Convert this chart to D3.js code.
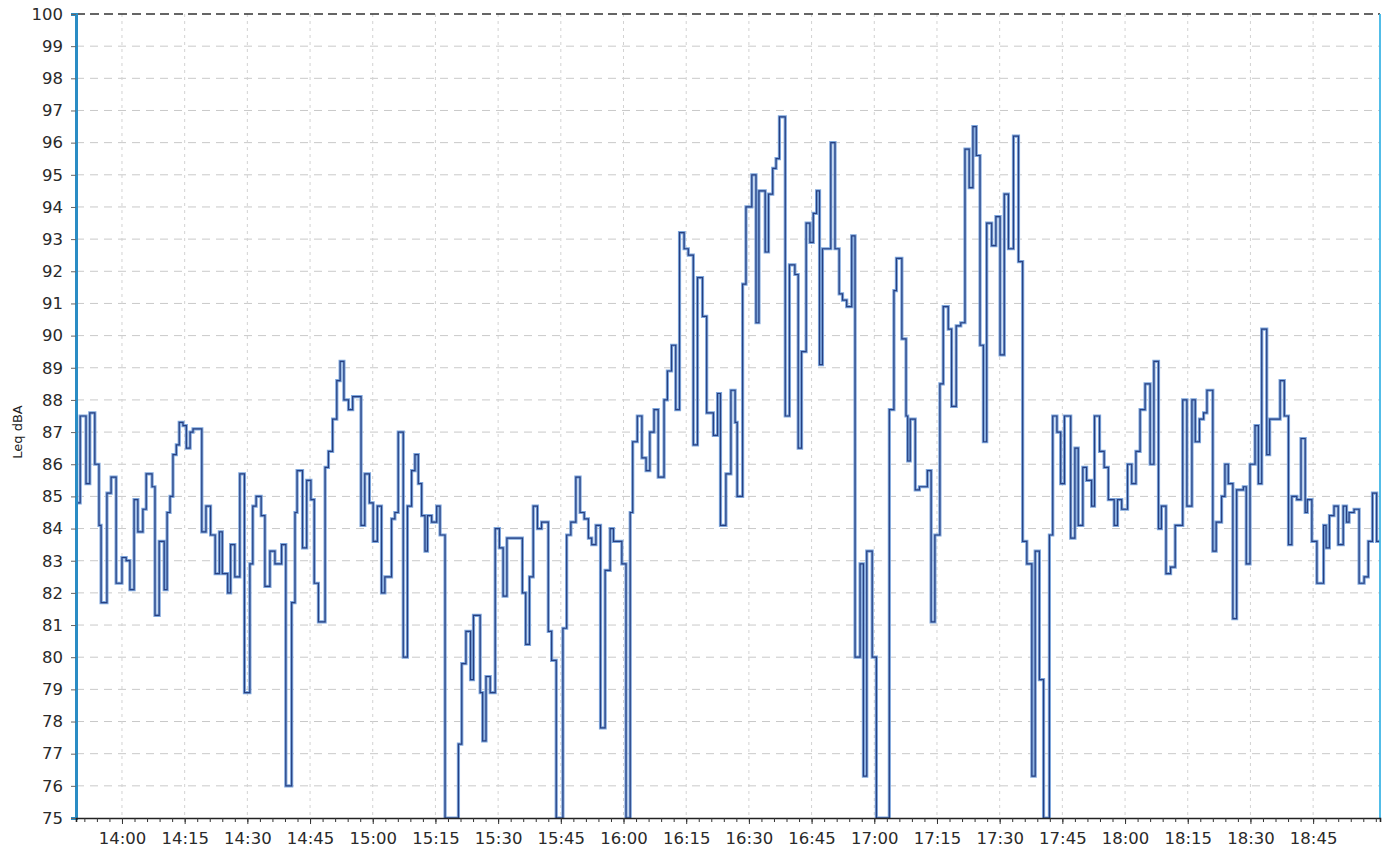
<!DOCTYPE html>
<html><head><meta charset="utf-8">
<script src="https://cdn.jsdelivr.net/npm/d3@7"></script>
<style>
body{margin:0;background:#fff;}
text{font-family:"DejaVu Sans",Verdana,sans-serif;}
</style>
</head><body>
<svg id="chart" width="1392" height="858"></svg>
<script>
// ---- data ----
const baseClock = "14:00";           // minutes below are offsets from this clock time
const rangeStartMin = -11;            // 13:49
const rangeEndMin = 301;              // 19:01
const stepStartMin = [
 -11,-10,-8.6,-7.7,-6.5,-5.5,-5,-3.6,-2.6,-1.4,0,1,1.9,2.9,3.8,5,5.8,7.2,7.9,8.9,10.1,10.8,11.5,12.2,13,13.7,14.6,15.4,16.3,17,
 19.1,20.1,21.2,22.3,23.3,24,25.3,26,27,28.2,29.3,30.6,31.3,32.1,33.3,34.2,35.4,36.6,38.2,39.2,40.6,41.4,41.9,43.2,44.2,45.2,46,47,48.6,49.4,50.4,51.4,52.2,53.1,54.2,55.2,57.2,58.1,
 59.2,60.1,61.1,62.1,62.9,64.5,65.3,66.1,67.3,68.3,69.3,70.1,70.9,71.7,72.5,73.1,74.1,75.3,76.1,77.3,80.5,81.3,82.3,83.4,84.1,85.7,86.3,87.1,88.1,89.3,90.3,91.2,92.1,95.8,96.6,97.5,98.4,99.4,
 100.4,102,102.8,103.9,105.5,106.4,107.4,108.6,109.6,110.6,111.6,112.4,113.4,114.5,115.6,116.8,117.6,119.6,120.6,121.6,122.2,123.3,124.4,125.4,126.3,127.3,128.3,129.7,130.5,131.5,132.5,133.4,134.5,135.5,136.7,137.7,138.9,139.9,
 141.5,142.5,143.2,144.5,145.7,146.7,147.2,148.5,149.3,150.7,151.7,152.4,153.9,154.7,155.7,156.5,157.3,158.7,159.7,161,161.8,162.6,163.7,164.6,165.4,166.2,166.9,167.6,169.6,170.6,171.6,172.4,173.4,174.6,175.4,176.6,177.4,178.2,179.5,
 180.5,183.6,184.7,185.3,186.6,187.6,188,188.6,189.8,190.8,192.7,193.6,194.5,195.7,196.5,197.7,198.5,199.6,200.7,201.7,202.7,203.6,204.4,205.3,206.1,206.9,208.1,209.1,210.1,211.1,212.1,213.3,214.5,215.5,216.5,217.7,218.5,219.5,
 220.5,221.9,222.7,223.7,224.6,225.5,227,228,228.8,229.9,230.8,232,232.7,233.9,235,236,237.4,238.2,239.2,240.6,241.6,242.6,243.6,244.8,246,246.9,248,248.7,249.8,250.9,252,253.8,254.8,256,256.8,257.8,258.8,259.6,
 261,261.8,263.1,263.9,264.7,265.8,266.7,268.3,269,269.9,271.1,271.9,272.7,273.9,274.6,277.1,278.1,279.1,279.9,281.1,282.1,283.1,283.6,284.7,285.9,287.5,288.1,288.9,290,291,292.2,293,293.6,294.8,296,297.2,298.2,299.2,300.2
];
const leqDBA = [
 84.8,87.5,85.4,87.6,86.0,84.1,81.7,85.1,85.6,82.3,83.1,83.0,82.1,84.9,83.9,84.6,85.7,85.3,81.3,83.6,82.1,84.5,85.0,86.3,86.6,87.3,87.2,86.5,87.0,87.1,
 83.9,84.7,83.8,82.6,83.9,82.6,82.0,83.5,82.5,85.7,78.9,82.9,84.7,85.0,84.4,82.2,83.3,82.9,83.5,76.0,81.7,84.5,85.8,83.4,85.5,84.9,82.3,81.1,85.9,86.4,87.4,88.6,89.2,88.0,87.7,88.1,84.1,85.7,
 84.8,83.6,84.7,82.0,82.5,84.3,84.5,87.0,80.0,84.7,85.8,86.3,85.4,84.4,83.3,84.4,84.2,84.7,83.8,75.0,77.3,79.8,80.8,79.3,81.3,78.9,77.4,79.4,78.9,84.0,83.4,81.9,83.7,82.0,80.4,82.5,84.7,84.0,
 84.2,80.8,79.9,75.0,80.9,83.8,84.2,85.6,84.5,84.3,83.7,83.5,84.1,77.8,82.7,84.0,83.6,82.9,75.0,84.5,86.7,87.5,86.2,85.8,87.0,87.7,85.6,88.0,88.9,89.7,87.7,93.2,92.7,92.5,86.6,91.8,90.6,87.6,
 86.9,88.2,84.1,85.7,88.3,87.3,85.0,91.6,94.0,95.0,90.4,94.5,92.6,94.4,95.2,95.5,96.8,87.5,92.2,91.9,86.5,89.5,93.5,92.9,93.8,94.5,89.1,92.7,96.0,92.7,91.3,91.1,90.9,93.1,80.0,82.9,76.3,83.3,80.0,
 75.0,87.7,91.4,92.4,89.9,87.5,86.1,87.4,85.2,85.3,85.8,81.1,83.8,88.5,90.9,90.2,87.8,90.3,90.4,95.8,94.6,96.5,95.6,89.7,86.7,93.5,92.8,93.7,89.4,94.4,92.7,96.2,92.3,83.6,82.9,76.3,83.3,79.3,
 75.0,83.8,87.5,87.0,85.4,87.5,83.7,86.5,84.1,85.9,85.5,84.7,87.5,86.4,85.9,84.9,84.1,84.9,84.6,86.0,85.4,86.4,87.7,88.5,86.0,89.2,84.0,84.7,82.6,82.8,84.1,88.0,84.7,88.0,86.7,87.4,87.6,88.3,
 83.3,84.2,85.0,86.0,85.4,81.2,85.2,85.3,82.9,86.0,87.2,85.4,90.2,86.3,87.4,88.6,87.5,83.5,85.0,84.9,86.8,84.5,84.9,83.6,82.3,84.1,83.4,84.4,84.7,83.5,84.7,84.2,84.5,84.6,82.3,82.5,83.6,85.1,83.6
];
const yTickValues = d3.range(75, 101);
const xTickLabels = ["14:00","14:15","14:30","14:45","15:00","15:15","15:30","15:45","16:00","16:15","16:30","16:45","17:00","17:15","17:30","17:45","18:00","18:15","18:30","18:45"];
const yAxisTitle = "Leq dBA";

// ---- layout ----
const W = 1392, H = 858;
const m = {left: 76, right: 12, top: 14, bottom: 40};
const plotW = W - m.left - m.right, plotH = H - m.top - m.bottom;
const FONT = "DejaVu Sans, Verdana, sans-serif";

const [bh, bm] = baseClock.split(":").map(Number);
const base = new Date(2000, 0, 1, bh, bm);
const toDate = mins => new Date(base.getTime() + mins * 60000);
const parseClock = s => { const [h, mm] = s.split(":").map(Number); return new Date(2000, 0, 1, h, mm); };

const x = d3.scaleTime().domain([toDate(rangeStartMin), toDate(rangeEndMin)]).range([0, plotW]);
const y = d3.scaleLinear().domain([75, 100]).range([plotH, 0]);

const svg = d3.select("#chart");
const g = svg.append("g").attr("transform", `translate(${m.left},${m.top})`);

// grid
g.append("g").selectAll("line").data(yTickValues.filter(v => v > 75 && v < 100)).join("line")
  .attr("x1", 0).attr("x2", plotW).attr("y1", d => y(d)).attr("y2", d => y(d))
  .attr("stroke", "#c9c9c9").attr("stroke-width", 1).attr("stroke-dasharray", "8,6");
const xTickDates = xTickLabels.map(parseClock);
g.append("g").selectAll("line").data(xTickDates).join("line")
  .attr("x1", d => x(d)).attr("x2", d => x(d)).attr("y1", 0).attr("y2", plotH)
  .attr("stroke", "#d2d2d2").attr("stroke-width", 1).attr("stroke-dasharray", "3,4");

// data line
const pts = stepStartMin.map((t, i) => ({t: toDate(t), v: leqDBA[i]}));
pts.push({t: toDate(rangeEndMin), v: leqDBA[leqDBA.length - 1]});
const line = d3.line().x(d => x(d.t)).y(d => y(d.v)).curve(d3.curveStepAfter);
g.append("clipPath").attr("id", "clip").append("rect").attr("x", 0).attr("y", -2).attr("width", plotW).attr("height", plotH + 2);
const lg = g.append("g").attr("clip-path", "url(#clip)");
lg.append("path").datum(pts).attr("d", line).attr("fill", "none")
  .attr("stroke", "#7ea6dc").attr("stroke-width", 3.2).attr("stroke-linejoin", "miter");
lg.append("path").datum(pts).attr("d", line).attr("fill", "none")
  .attr("stroke", "#263f80").attr("stroke-width", 1.2);

// top dashed border
g.append("line").attr("x1", 0).attr("x2", plotW).attr("y1", 0).attr("y2", 0)
  .attr("stroke", "#333").attr("stroke-width", 1.3).attr("stroke-dasharray", "9,5");
// right border
g.append("line").attr("x1", plotW).attr("x2", plotW).attr("y1", 0).attr("y2", plotH)
  .attr("stroke", "#3fb6e6").attr("stroke-width", 1.8);

// y axis
const yAxis = g.append("g").call(d3.axisLeft(y).tickValues(yTickValues).tickSize(5).tickPadding(8).tickFormat(d3.format("d")));
yAxis.select(".domain").attr("stroke", "#2a8cc4").attr("stroke-width", 3);
yAxis.selectAll(".tick line").attr("stroke", "#666");
yAxis.selectAll(".tick text").attr("font-size", 16.5).attr("fill", "#2a2a2a").attr("font-family", FONT);

// x axis
const xAxisG = g.append("g").attr("transform", `translate(0,${plotH})`);
xAxisG.call(d3.axisBottom(x).ticks(d3.timeMinute.every(3)).tickSize(4).tickFormat(""));
xAxisG.select(".domain").attr("stroke", "#222").attr("stroke-width", 1.6);
xAxisG.selectAll(".tick line").attr("stroke", "#333");
const xMajor = g.append("g").attr("transform", `translate(0,${plotH})`)
  .call(d3.axisBottom(x).tickValues(xTickDates).tickSize(6).tickPadding(8).tickFormat(d3.timeFormat("%H:%M")));
xMajor.select(".domain").remove();
xMajor.selectAll(".tick line").attr("stroke", "#333");
xMajor.selectAll(".tick text").attr("font-size", 16.5).attr("fill", "#2a2a2a").attr("font-family", FONT);

// y title
svg.append("text").attr("transform", `translate(22,432) rotate(-90)`)
  .attr("text-anchor", "middle").attr("font-size", 13).attr("fill", "#222")
  .attr("font-family", FONT).text(yAxisTitle);
</script>
</body></html>
